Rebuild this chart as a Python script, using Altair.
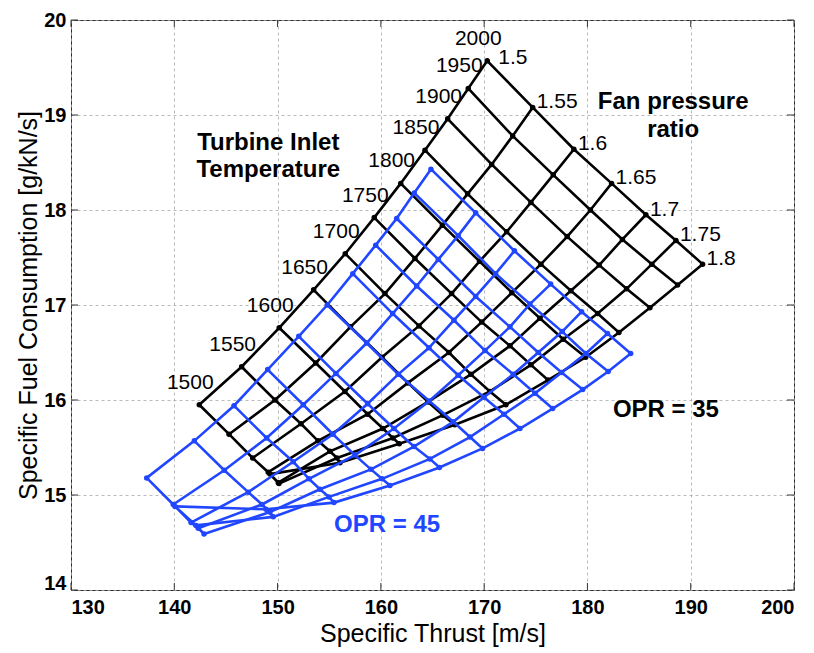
import altair as alt
import pandas as pd

# Carpet parameters
tit_levels = [1500, 1550, 1600, 1650, 1700, 1750, 1800, 1850, 1900, 1950, 2000]
fpr_levels = [1.5, 1.55, 1.6, 1.65, 1.7, 1.75, 1.8]

# OPR = 35 : one row per turbine inlet temperature, one value per fan pressure ratio
opr35_thrust = [
    [142.42, 145.30, 147.59, 149.10, 150.07, 150.14, 149.26],
    [146.52, 149.75, 152.27, 153.91, 155.07, 155.75, 156.04],
    [150.16, 153.69, 156.52, 158.72, 160.20, 161.17, 161.78],
    [153.49, 157.06, 160.11, 162.62, 164.56, 166.01, 167.17],
    [156.55, 160.40, 163.69, 166.59, 168.72, 170.56, 172.11],
    [159.36, 163.30, 166.85, 169.76, 172.50, 174.53, 176.18],
    [161.92, 165.96, 169.55, 172.69, 175.40, 177.66, 179.83],
    [164.27, 168.40, 172.18, 175.50, 178.40, 180.99, 183.05],
    [166.47, 170.73, 174.53, 178.04, 181.14, 183.79, 186.05],
    [168.46, 172.76, 176.69, 180.29, 183.39, 186.24, 188.73],
    [170.30, 174.70, 178.69, 182.34, 185.66, 188.57, 191.15],
]
opr35_sfc = [
    [15.95, 15.64, 15.39, 15.24, 15.13, 15.12, 15.22],
    [16.35, 16.00, 15.75, 15.57, 15.46, 15.39, 15.34],
    [16.76, 16.39, 16.09, 15.85, 15.70, 15.60, 15.54],
    [17.16, 16.77, 16.45, 16.18, 15.98, 15.84, 15.74],
    [17.54, 17.12, 16.78, 16.50, 16.27, 16.09, 15.95],
    [17.92, 17.49, 17.12, 16.82, 16.57, 16.37, 16.21],
    [18.28, 17.84, 17.46, 17.13, 16.86, 16.64, 16.45],
    [18.63, 18.17, 17.77, 17.43, 17.15, 16.91, 16.71],
    [18.96, 18.48, 18.08, 17.72, 17.42, 17.17, 16.97],
    [19.28, 18.78, 18.37, 18.00, 17.69, 17.43, 17.21],
    [19.57, 19.08, 18.64, 18.28, 17.95, 17.68, 17.43],
]

# OPR = 45
opr45_thrust = [
    [137.33, 139.90, 141.62, 142.32, 142.88, 142.10, 140.07],
    [141.94, 144.84, 147.16, 148.49, 149.26, 149.58, 148.88],
    [145.78, 148.94, 151.52, 153.04, 154.10, 154.98, 155.46],
    [149.04, 152.49, 155.36, 157.49, 159.04, 160.11, 160.88],
    [152.05, 155.65, 158.72, 161.27, 163.20, 164.75, 165.67],
    [154.81, 158.63, 161.68, 164.69, 167.01, 168.63, 169.85],
    [157.28, 161.14, 164.66, 167.49, 169.98, 171.92, 173.47],
    [159.50, 163.47, 167.08, 170.08, 172.82, 174.92, 176.63],
    [161.53, 165.56, 169.18, 172.50, 175.24, 177.50, 179.54],
    [163.23, 167.49, 171.11, 174.43, 177.56, 179.85, 182.01],
    [164.85, 169.18, 172.93, 176.44, 179.44, 181.94, 184.19],
]
opr45_sfc = [
    [15.18, 14.90, 14.71, 14.65, 14.59, 14.68, 14.88],
    [15.57, 15.26, 15.03, 14.90, 14.82, 14.77, 14.85],
    [15.94, 15.60, 15.35, 15.17, 15.06, 14.98, 14.92],
    [16.32, 15.95, 15.64, 15.42, 15.27, 15.17, 15.10],
    [16.67, 16.28, 15.96, 15.70, 15.51, 15.38, 15.29],
    [17.00, 16.60, 16.27, 15.99, 15.77, 15.61, 15.49],
    [17.33, 16.91, 16.55, 16.26, 16.03, 15.85, 15.70],
    [17.63, 17.20, 16.84, 16.52, 16.27, 16.07, 15.91],
    [17.91, 17.48, 17.09, 16.77, 16.50, 16.29, 16.11],
    [18.18, 17.73, 17.33, 17.01, 16.72, 16.49, 16.30],
    [18.43, 17.97, 17.57, 17.22, 16.93, 16.70, 16.49],
]

x_ticks = [130, 140, 150, 160, 170, 180, 190, 200]
y_ticks = [14, 15, 16, 17, 18, 19, 20]

BLACK = "#000000"
BLUE = "#2146ff"
FONT = "Liberation Sans"

W, H = 723, 570


def carpet_frame(thrust, sfc, opr):
    rows = []
    for i, tit in enumerate(tit_levels):
        for j, fpr in enumerate(fpr_levels):
            rows.append({"opr": opr, "tit": tit, "fpr": fpr, "i": i, "j": j,
                         "thrust": thrust[i][j], "sfc": sfc[i][j]})
    return pd.DataFrame(rows)


xs = alt.Scale(domain=[130, 200], nice=False, zero=False)
ys = alt.Scale(domain=[14, 20], nice=False, zero=False)
X = alt.X("thrust:Q", scale=xs)
Y = alt.Y("sfc:Q", scale=ys)


def carpet_layers(df, color):
    base = alt.Chart(df)
    tit_lines = base.mark_line(color=color, strokeWidth=2.6).encode(
        x=X, y=Y, detail="tit:N", order="j:Q")
    fpr_lines = base.mark_line(color=color, strokeWidth=2.6).encode(
        x=X, y=Y, detail="fpr:N", order="i:Q")
    dots = base.mark_circle(color=color, size=30, opacity=1).encode(x=X, y=Y)
    return [tit_lines, fpr_lines, dots]


df35 = carpet_frame(opr35_thrust, opr35_sfc, 35)
df45 = carpet_frame(opr45_thrust, opr45_sfc, 45)

# Axes, grid and frame
axis_style = dict(
    grid=True, gridDash=[3, 3], gridColor="#a8a8a8", gridWidth=0.8,
    domain=False, ticks=False, format="d",
    labelFont=FONT, labelFontWeight="bold", labelFontSize=20, labelColor="#000",
    titleFont=FONT, titleFontWeight="normal", titleFontSize=25, titleColor="#000",
)
axis_base = alt.Chart(pd.DataFrame({"v": [0]})).mark_point(opacity=0).encode(
    x=alt.X("v:Q", scale=xs, axis=alt.Axis(
        values=x_ticks, title="Specific Thrust [m/s]", labelPadding=7,
        titlePadding=4, **axis_style)),
    y=alt.Y("v:Q", scale=ys, axis=alt.Axis(
        values=y_ticks, title="Specific Fuel Consumption [g/kN/s]", labelPadding=5,
        titlePadding=2,
        labelOffset={"condition": {"test": "datum.value === 14", "value": -7},
                     "value": 0},
        **axis_style)),
)

xt = pd.DataFrame({"v": x_ticks})
yt = pd.DataFrame({"v": y_ticks})
tick_bottom = alt.Chart(xt).mark_rule(color="#333", strokeWidth=1).encode(
    x=alt.X("v:Q", scale=xs), y=alt.value(H), y2=alt.value(H - 7))
tick_top = alt.Chart(xt).mark_rule(color="#333", strokeWidth=1).encode(
    x=alt.X("v:Q", scale=xs), y=alt.value(0), y2=alt.value(7))
tick_left = alt.Chart(yt).mark_rule(color="#333", strokeWidth=1).encode(
    y=alt.Y("v:Q", scale=ys), x=alt.value(0), x2=alt.value(7))
tick_right = alt.Chart(yt).mark_rule(color="#333", strokeWidth=1).encode(
    y=alt.Y("v:Q", scale=ys), x=alt.value(W), x2=alt.value(W - 7))

# Labels along the carpet edges
tit_edge = df35[df35["j"] == 0].assign(label=lambda d: d["tit"].astype(str))
fpr_edge = df35[df35["i"] == len(tit_levels) - 1].assign(
    label=lambda d: d["fpr"].map(lambda v: f"{v:g}"))

tit_text = alt.Chart(tit_edge).mark_text(
    font=FONT, fontSize=21, color="#000", align="center", baseline="middle",
    dx=-9, dy=-22).encode(x=X, y=Y, text="label:N")
fpr_text_first = alt.Chart(fpr_edge[fpr_edge["j"] == 0]).mark_text(
    font=FONT, fontSize=21, color="#000", align="left", baseline="middle",
    dx=11, dy=-3).encode(x=X, y=Y, text="label:N")
fpr_text = alt.Chart(fpr_edge[fpr_edge["j"] > 0]).mark_text(
    font=FONT, fontSize=21, color="#000", align="left", baseline="middle",
    dx=4, dy=-5).encode(x=X, y=Y, text="label:N")

notes = pd.DataFrame({
    "thrust": [149.1, 149.1, 188.3, 188.3, 187.6],
    "sfc": [18.71, 18.42, 19.14, 18.84, 15.89],
    "label": ["Turbine Inlet", "Temperature", "Fan pressure", "ratio", "OPR = 35"],
})
note_text = alt.Chart(notes).mark_text(
    font=FONT, fontSize=24, fontWeight="bold", color="#000", align="center",
    baseline="middle").encode(x=X, y=Y, text="label:N")

blue_note = alt.Chart(pd.DataFrame({"thrust": [160.6], "sfc": [14.68],
                                    "label": ["OPR = 45"]})).mark_text(
    font=FONT, fontSize=24, fontWeight="bold", color=BLUE, align="center",
    baseline="middle").encode(x=X, y=Y, text="label:N")

layers = ([axis_base, tick_bottom, tick_top, tick_left, tick_right]
          + carpet_layers(df35, BLACK) + carpet_layers(df45, BLUE)
          + [tit_text, fpr_text_first, fpr_text, note_text, blue_note])

chart = alt.layer(*layers).properties(
    width=W, height=H, autosize="none",
    padding={"left": 71, "top": 20, "right": 20, "bottom": 63},
    background="white",
).configure_view(stroke="#2a2a2a", strokeWidth=1)

chart.save("out.html", embed_options={"renderer": "svg", "actions": False})
